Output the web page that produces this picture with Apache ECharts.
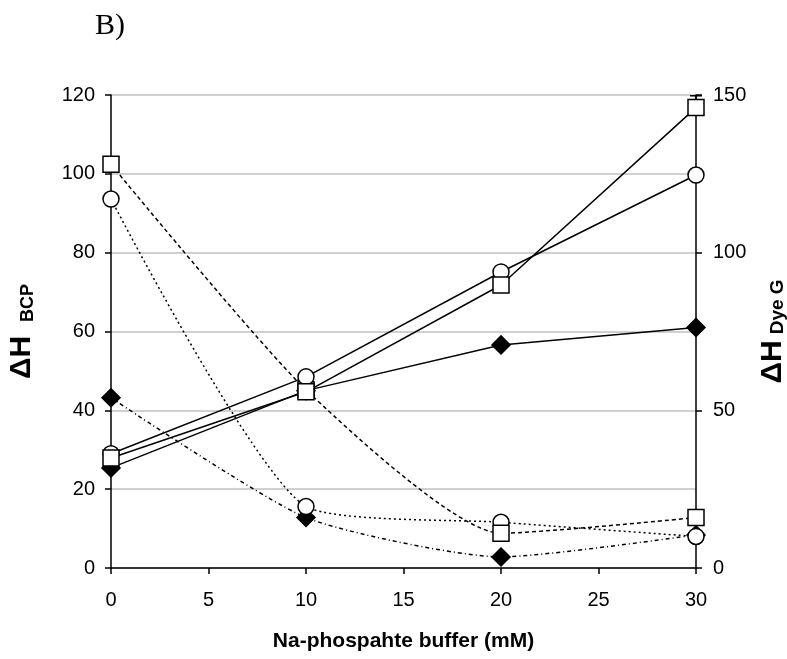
<!DOCTYPE html>
<html>
<head>
<meta charset="utf-8">
<script src="https://cdn.jsdelivr.net/npm/echarts@6/dist/echarts.min.js"></script>
<style>
  html, body { margin: 0; padding: 0; background: #fff; }
  #chart { width: 787px; height: 659px; }
</style>
</head>
<body>
<div id="chart"></div>
<script>
var chart = echarts.init(document.getElementById('chart'), null, { renderer: 'canvas' });

// x values (mM)
var buffer = [0, 10, 20, 30];

// solid lines, left axis (ΔH BCP)
var bcpSquare = [27.9, 44.7, 71.8, 116.8];
var bcpCircle = [29.0, 48.5, 75.1, 99.7];
var bcpDiamond = [25.4, 45.0, 56.6, 61.0];

// dotted lines, right axis (ΔH Dye G)
var dyeSquare = [128, 56.5, 11, 16];
var dyeCircle = [117, 19.5, 14.5, 10];
var dyeDiamond = [54, 16, 3.5, 10.5];

// error bar on last solid square: [x, low, high]
var errBar = [[30, 116.8, 119.8]];

var font = 'Liberation Sans, Arial, sans-serif';

function pairs(ys) {
    var out = [];
    for (var i = 0; i < buffer.length; i++) {
        out.push([buffer[i], ys[i]]);
    }
    return out;
}

var squareSym = { symbol: 'rect', symbolSize: 16, color: '#fff', border: '#000' };
var circleSym = { symbol: 'circle', symbolSize: 16, color: '#fff', border: '#000' };
var diamondSym = { symbol: 'diamond', symbolSize: 18, color: '#000', border: '#000' };

function solid(name, ys, sym, z) {
    return {
        name: name,
        type: 'line',
        yAxisIndex: 0,
        data: pairs(ys),
        symbol: sym.symbol,
        symbolSize: sym.symbolSize,
        showAllSymbol: true,
        z: z,
        lineStyle: { color: '#000', width: 1.5, type: 'solid' },
        itemStyle: { color: sym.color, borderColor: sym.border, borderWidth: 1.5, opacity: 1 },
        emphasis: { disabled: true }
    };
}

function dotted(name, ys, sym, dash, z) {
    return {
        name: name,
        type: 'line',
        yAxisIndex: 1,
        smooth: 0.2,
        data: pairs(ys),
        symbol: sym.symbol,
        symbolSize: sym.symbolSize,
        showAllSymbol: true,
        z: z,
        lineStyle: { color: '#000', width: 1.5, type: dash },
        itemStyle: { color: sym.color, borderColor: sym.border, borderWidth: 1.5, opacity: 1 },
        emphasis: { disabled: true }
    };
}

chart.setOption({
    animation: false,
    backgroundColor: '#fff',
    title: {
        text: 'B)',
        left: 90,
        top: 6,
        textStyle: { fontFamily: 'Liberation Serif, Times New Roman, serif', fontSize: 30, fontWeight: 'normal', color: '#000' }
    },
    grid: { left: 111, right: 91, top: 95, bottom: 91, containLabel: false, outerBoundsMode: 'none' },
    xAxis: {
        type: 'value',
        min: 0,
        max: 30,
        interval: 5,
        name: 'Na-phospahte buffer (mM)',
        nameLocation: 'middle',
        nameGap: 63,
        nameTextStyle: { fontFamily: font, fontSize: 21, fontWeight: 'bold', color: '#000' },
        axisLine: { onZero: false, lineStyle: { color: '#000', width: 1.5 } },
        axisTick: { show: true, inside: false, length: 6, lineStyle: { color: '#000', width: 1.5 } },
        axisLabel: { margin: 22, fontFamily: font, fontSize: 20, color: '#000' },
        splitLine: { show: false }
    },
    yAxis: [
        {
            type: 'value',
            min: 0,
            max: 120,
            interval: 20,
            name: '{a|ΔH}{b|BCP}',
            nameLocation: 'middle',
            nameRotate: 90,
            nameGap: 74,
            nameTextStyle: {
                rich: {
                    a: { fontFamily: font, fontSize: 30, fontWeight: 'bold', color: '#000', verticalAlign: 'bottom' },
                    b: { fontFamily: font, fontSize: 18, fontWeight: 'bold', color: '#000', verticalAlign: 'bottom', padding: [0, 0, 0, 14] }
                }
            },
            axisLine: { show: true, onZero: false, lineStyle: { color: '#000', width: 1.5 } },
            axisTick: { show: true, inside: false, length: 6, lineStyle: { color: '#000', width: 1.5 } },
            axisLabel: { margin: 16, fontFamily: font, fontSize: 20, color: '#000' },
            splitLine: { show: true, lineStyle: { color: '#c0c0c0', width: 1.5 } }
        },
        {
            type: 'value',
            min: 0,
            max: 150,
            interval: 50,
            position: 'right',
            name: '{a|ΔH}{b|Dye G}',
            nameLocation: 'middle',
            nameRotate: 90,
            nameGap: 59,
            nameTextStyle: {
                rich: {
                    a: { fontFamily: font, fontSize: 30, fontWeight: 'bold', color: '#000', verticalAlign: 'bottom' },
                    b: { fontFamily: font, fontSize: 19, fontWeight: 'bold', color: '#000', verticalAlign: 'bottom', padding: [0, 0, 0, 6] }
                }
            },
            axisLine: { show: true, onZero: false, lineStyle: { color: '#000', width: 1.5 } },
            axisTick: { show: true, inside: false, length: 6, lineStyle: { color: '#000', width: 1.5 } },
            axisLabel: { margin: 17, fontFamily: font, fontSize: 20, color: '#000' },
            splitLine: { show: false }
        }
    ],
    series: [
        {
            name: 'error',
            type: 'custom',
            yAxisIndex: 0,
            z: 1,
            data: errBar,
            renderItem: function (params, api) {
                var lo = api.coord([api.value(0), api.value(1)]);
                var hi = api.coord([api.value(0), api.value(2)]);
                var style = { stroke: '#000', lineWidth: 1.5 };
                return {
                    type: 'group',
                    children: [
                        { type: 'line', shape: { x1: lo[0], y1: lo[1], x2: hi[0], y2: hi[1] }, style: style },
                        { type: 'line', shape: { x1: hi[0] - 6, y1: hi[1], x2: hi[0] + 6, y2: hi[1] }, style: style }
                    ]
                };
            }
        },
        dotted('Dye G diamond', dyeDiamond, diamondSym, [4, 3, 1, 3], 2),
        dotted('Dye G circle', dyeCircle, circleSym, [2, 3], 3),
        dotted('Dye G square', dyeSquare, squareSym, [4, 3], 4),
        solid('BCP diamond', bcpDiamond, diamondSym, 5),
        solid('BCP circle', bcpCircle, circleSym, 6),
        solid('BCP square', bcpSquare, squareSym, 7)
    ]
});
</script>
</body>
</html>
